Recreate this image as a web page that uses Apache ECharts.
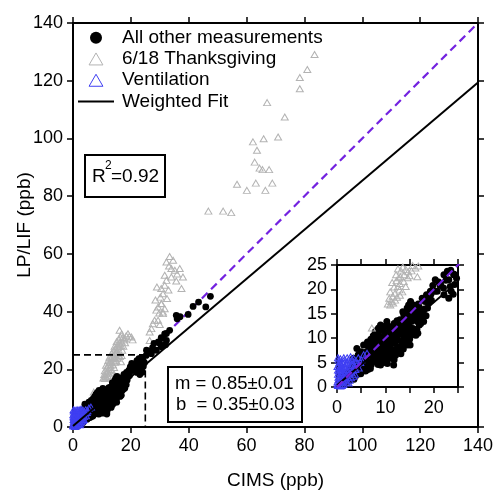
<!DOCTYPE html>
<html>
<head>
<meta charset="utf-8">
<script src="https://cdn.jsdelivr.net/npm/echarts@6/dist/echarts.min.js"></script>
<style>
html,body{margin:0;padding:0;background:#fff;}
#chart{width:495px;height:491px;}
</style>
</head>
<body>
<div id="chart"></div>
<script>
// ---------- data ----------
const xTitle = 'CIMS (ppb)';
const yTitle = 'LP/LIF (ppb)';
const legendNames = ['All other measurements', '6/18 Thanksgiving', 'Ventilation', 'Weighted Fit'];
const r2Text = '0.92';
const slopeText = 'm = 0.85\u00b10.01';
const interceptText = 'b  = 0.35\u00b10.03';

const mainMax = 140, mainStep = 20;
const insetMax = 25, insetStep = 5, insetLabelStep = 10;

// All other measurements [CIMS, LP/LIF]
const otherPts = [
  [47.5,45.3],[45.9,41.6],[43.4,43.3],[41.5,41.8],[39.8,39.0],[37.0,38.2],[36.0,37.5],[35.7,38.7],
  [33.4,33.5],[31.7,32.3],[32.3,30.0],[30.0,28.9],[28.8,26.6],[29.5,29.5],[31.0,30.8],[30.5,27.8],
  [32.0,28.5],[27.1,25.4],[25.3,24.8],[26.0,26.3],[27.5,27.5],[28.0,29.0],[24.2,23.1],[22.5,21.9],
  [23.6,19.6],[21.3,20.8],[20.2,19.6],[24.0,19.0],[23.1,22.0],[25.4,26.6],[32.3,32.4],[30.5,31.0],
  [22.8,23.7],[22.1,23.0],[24.1,23.0],[23.5,23.9],[20.3,22.0],[21.0,21.5],[19.3,19.6],[20.7,19.6],
  [23.1,18.2],[23.4,20.6],[21.4,21.0],[24.3,21.0],[22.1,18.9],[22.0,20.3],[24.7,22.3],[19.8,20.8],
  [18.5,18.9],[17.6,18.2],[18.2,17.5],[19.0,18.3],
  [16.8,17.0],[17.2,15.6],[16.2,16.2],[16.6,13.4],[17.0,12.7],[16.0,14.5],[15.9,10.7],[16.5,11.8],
  [17.5,14.2],[15.5,15.6],[15.2,17.5],
  [14.5,16.2],[15.0,14.0],[14.2,15.0],[14.5,12.5],[15.2,12.1],[14.0,11.3],[14.5,8.6],[15.0,9.8],
  [13.8,14.8],[13.8,10.0],[14.8,13.2],[13.5,9.2],
  [13.0,13.8],[12.4,12.7],[12.8,11.5],[13.1,7.3],[12.4,10.0],[12.0,9.0],[12.5,8.2],[13.2,10.8],
  [12.2,11.8],[11.8,13.0],[12.9,12.3],[11.7,7.6],
  [11.0,8.6],[11.0,5.9],[11.7,4.5],[10.3,13.4],[10.0,10.7],[10.5,9.5],[11.2,10.0],[10.8,11.5],
  [11.5,12.2],[10.2,8.0],[10.7,7.0],[11.4,6.6],[10.0,6.2],[11.0,12.0],
  [9.0,12.7],[8.3,11.7],[8.6,12.1],[9.7,7.3],[9.0,4.5],[9.4,9.0],[8.8,8.2],[9.2,10.3],
  [8.5,9.6],[9.8,11.2],[8.2,7.0],[8.7,5.5],[9.5,6.0],[8.0,10.5],
  [7.6,5.9],[6.2,7.3],[6.9,3.8],[7.0,9.8],[6.5,8.5],[7.3,7.8],[6.8,6.5],[7.8,8.8],
  [6.0,5.2],[7.5,10.5],[6.3,4.6],[7.9,6.8],
  [5.5,8.6],[4.1,7.9],[5.5,3.8],[4.1,3.2],[5.0,6.0],[4.6,5.0],[5.2,4.6],[4.4,6.6],
  [5.8,7.0],[4.8,3.4],[5.7,5.4],
  [3.4,5.9],[2.8,1.8],[3.0,4.0],[3.6,3.0],[2.5,3.3],[3.2,2.3],[2.2,2.0],[3.8,4.8],
  [1.4,1.1],[0.8,0.6],[1.2,2.0],[1.8,1.5],[0.5,0.3],
  [1.6,0.8],[2.0,2.8],[2.4,1.2],[1.0,1.5],
  [3.5,1.6],[3.0,2.9],[4.0,2.4],[3.8,4.0],[4.3,5.6],[3.3,4.9],
  [4.9,2.7],[5.3,5.2],[5.0,7.2],[5.6,6.2],[4.7,4.2],[5.9,3.3],
  [6.1,6.3],[6.6,7.7],[6.4,3.6],[6.7,5.0],[7.1,4.6],[7.2,6.8],[6.3,9.2],[6.9,8.9],[7.4,5.4],
  [7.7,7.6],[8.0,5.2],[8.3,6.2],[8.1,8.4],[7.6,9.6],[8.4,11.0],[7.9,11.3],[8.5,4.6],
  [9.1,5.2],[9.3,7.8],[9.6,8.5],[9.9,9.8],[9.4,11.8],[9.7,12.4],[9.1,6.6],[10.0,5.0],
  [10.4,6.8],[10.6,8.2],[10.9,9.2],[10.3,11.0],[10.6,12.5],[10.9,10.4],[11.2,7.8],[10.4,4.8],
  [11.6,9.4],[11.9,10.6],[11.5,11.2],[12.1,6.5],[12.3,7.6],[11.8,5.6],[12.6,9.6],[12.1,12.6],[12.4,13.6],
  [13.3,8.4],[13.6,11.6],[13.0,12.6],[13.4,13.2],[13.9,12.4],[13.2,6.8],[13.7,7.8],[14.1,9.5],[13.6,15.4],
  [14.3,10.3],[14.7,11.4],[15.3,11.0],[14.9,15.0],[15.4,13.4],[14.2,13.8],[15.1,8.6],[14.8,16.8],
  [15.7,12.0],[16.3,10.6],[16.4,15.2],[15.8,16.8],[16.9,14.6],[16.7,11.0],[17.3,13.0],[17.0,16.3],
  [17.8,15.2],[17.9,13.4],[18.4,14.6],[18.7,16.2],[18.1,16.0],[18.9,17.2],[19.5,17.8],[19.4,19.0]
];

// 6/18 Thanksgiving [CIMS, LP/LIF]
const thanksPts = [
  [10.5,17.0],[10.8,18.2],[11.2,17.5],[11.0,19.5],[11.5,18.6],[11.8,20.5],[11.4,21.4],[12.0,19.2],
  [12.3,21.8],[12.6,20.6],[12.2,23.0],[12.8,22.4],[13.2,23.8],[13.0,21.2],[13.6,24.6],[13.9,23.0],
  [13.4,25.6],[14.2,24.1],[14.0,26.4],[14.5,25.2],[14.8,27.0],[14.4,28.0],[15.0,26.0],[15.3,28.5],
  [15.6,27.4],[15.1,29.6],[15.8,30.4],[16.1,33.5],[16.4,31.2],[16.8,32.2],[17.2,31.0],[17.6,30.2],
  [17.9,30.6],[18.4,31.6],[19.0,32.3],[19.5,31.4],[20.2,31.2],[20.6,30.2],[16.0,29.0],[16.6,28.2],
  [15.4,23.8],[16.2,24.4],[16.8,24.8],[16.6,22.6],[13.5,19.5],[14.6,22.4],[12.0,17.8],[17.0,26.6],
  [15.8,25.6],[13.0,18.8],[7.2,12.1],
  [11.0,16.8],[11.6,17.2],[12.4,18.4],[12.9,19.9],[13.8,21.6],[14.2,20.6],[15.0,22.8],[15.6,24.9],
  [14.7,23.6],[13.1,22.6],[12.6,24.2],[14.9,25.7],[15.9,27.9],[16.9,29.4],[17.4,28.0],[18.0,29.2],
  [30.5,42.7],[29.4,41.6],[31.1,39.8],[28.2,37.0],[29.4,37.0],[27.1,34.1],[26.5,32.9],[27.6,35.8],
  [26.5,30.0],[33.4,59.1],[34.6,57.8],[32.3,57.2],[34.0,54.9],[36.9,54.9],[35.2,54.3],[31.7,52.6],
  [38.0,52.0],[32.3,50.8],[35.7,50.6],[31.7,49.1],[37.5,48.0],[31.1,46.2],[30.6,42.8],[31.7,41.0],
  [31.1,39.3],[29.0,48.5],[30.2,45.0],[28.5,44.0],[29.8,39.5],[30.0,35.5],[28.8,40.5],[32.5,44.5],
  [33.0,47.5],[34.0,52.0],[33.2,55.8],[36.0,53.0],[30.5,48.0],
  [46.8,74.8],[51.9,74.8],[54.7,74.3],[56.7,84.1],[60.1,82.0],[63.2,84.5],[66.5,82.0],[68.9,84.5],
  [62.8,91.8],[64.5,89.7],[65.5,89.2],[67.8,89.2],[63.6,95.9],[62.2,98.8],[65.9,99.9],[70.9,100.5],
  [73.2,107.4],[67.1,112.4],[78.4,117.2],[78.4,121.1],[81.0,123.9],[83.5,129.1]
];

// Ventilation [CIMS, LP/LIF]
const ventPts = [
  [0.2,0.3],[0.4,0.8],[0.3,1.5],[0.6,2.2],[0.5,3.0],[0.8,3.8],[0.4,4.5],[1.0,5.2],[1.4,6.0],[0.3,5.5],
  [0.9,1.0],[1.2,1.8],[1.5,2.6],[1.1,3.4],[1.6,4.2],[2.0,5.0],[2.4,5.6],[1.8,1.2],[2.2,2.0],[2.6,2.8],
  [2.1,3.6],[2.8,4.4],[3.4,5.9],[3.0,3.0],[3.4,2.2],[2.6,1.4],[3.8,3.6],[4.2,4.8],[5.5,6.6],[5.0,5.6],
  [1.3,0.5],[0.7,0.2],[2.0,0.9],[0.2,2.6],[0.6,4.0],[1.7,3.0],[0.1,1.0],[1.0,2.6],[3.2,4.7],[4.5,3.9],
  [0.1,0.5],[0.3,2.0],[0.2,3.5],[0.1,4.2],[0.5,5.0],[0.7,5.8],[0.9,4.6],[0.6,1.4],[0.8,2.9],[1.1,4.0],
  [1.3,4.8],[1.5,5.5],[1.2,1.2],[1.4,3.0],[1.7,3.7],[1.9,4.5],[2.1,6.0],[1.6,1.9],[1.9,2.4],[2.3,3.1],
  [2.5,4.1],[2.7,5.1],[3.0,5.5],[2.4,0.8],[2.9,1.9],[3.3,3.4],[3.6,4.3],[3.9,5.4],[4.4,6.0],[1.0,0.3],
  [0.4,3.3],[0.2,6.0],[2.8,6.2],[3.7,2.6],[4.8,5.0],[6.2,6.9]
];

// Weighted fit (m = 0.85, b = 0.35) and 1:1 line, end points
const fitLine = [[0, 0.35], [140, 119.35]];
const oneToOne = [[0, 0], [140, 140]];
// inset region outline on main plot
const zoomBox = [[0, 25], [25, 25], [25, 0]];

// ---------- style ----------
const FONT = '"Liberation Sans", Arial, Helvetica, sans-serif';
const BLACK = '#000';
const GRAY = '#b3b3b3';
const BLUE = '#3f3ff2';
const PURPLE = '#7322e0';

function axisBase(extra) {
  return Object.assign({
    type: 'value',
    nameMoveOverlap: false,
    axisLine: { show: true, onZero: false, lineStyle: { color: BLACK, width: 2 } },
    axisTick: { show: true, inside: false, length: 6, lineStyle: { color: BLACK, width: 1.5 } },
    splitLine: { show: false },
    axisLabel: { color: BLACK, fontSize: 18, fontFamily: FONT },
    nameTextStyle: { color: BLACK, fontSize: 19, fontFamily: FONT }
  }, extra);
}
function mirror(a) { a.axisLabel = Object.assign({}, a.axisLabel, { show: false }); return a; }

const insetLabel = v => (v % insetLabelStep === 0 ? String(v) : '');

const hollow = c => ({ color: 'rgba(0,0,0,0)', borderColor: c, borderWidth: 1, opacity: 1 });
const solid = { color: BLACK, opacity: 1 };

const option = {
  animation: false,
  backgroundColor: '#fff',
  grid: [
    { left: 73, top: 23, width: 405, height: 404, containLabel: false, outerBoundsMode: 'none' },
    { left: 337, top: 265, width: 121, height: 122, containLabel: false, outerBoundsMode: 'none' }
  ],
  xAxis: [
    axisBase({ gridIndex: 0, min: 0, max: mainMax, interval: mainStep, position: 'bottom',
      name: xTitle, nameLocation: 'middle', nameGap: 44,
      axisLabel: { color: BLACK, fontSize: 18, fontFamily: FONT, margin: 10 } }),
    mirror(axisBase({ gridIndex: 0, min: 0, max: mainMax, interval: mainStep, position: 'top' })),
    axisBase({ gridIndex: 1, min: 0, max: insetMax, interval: insetStep, position: 'bottom',
      axisLabel: { color: BLACK, fontSize: 18, fontFamily: FONT, margin: 12, formatter: insetLabel } }),
    mirror(axisBase({ gridIndex: 1, min: 0, max: insetMax, interval: insetStep, position: 'top' }))
  ],
  yAxis: [
    axisBase({ gridIndex: 0, min: 0, max: mainMax, interval: mainStep, position: 'left',
      name: yTitle, nameLocation: 'middle', nameGap: 39,
      axisLabel: { color: BLACK, fontSize: 18, fontFamily: FONT, margin: 10 } }),
    mirror(axisBase({ gridIndex: 0, min: 0, max: mainMax, interval: mainStep, position: 'right' })),
    axisBase({ gridIndex: 1, min: 0, max: insetMax, interval: insetStep, position: 'left',
      axisLabel: { color: BLACK, fontSize: 18, fontFamily: FONT, margin: 10 } }),
    mirror(axisBase({ gridIndex: 1, min: 0, max: insetMax, interval: insetStep, position: 'right' }))
  ],
  legend: {
    left: 78, top: 27, orient: 'vertical', selectedMode: false, padding: 0,
    itemWidth: 36, itemHeight: 12, itemGap: 0, symbolKeepAspect: true,
    textStyle: { color: BLACK, fontSize: 19, fontFamily: FONT, lineHeight: 21.3, padding: [0, 0, 0, 3] },
    data: [
      { name: legendNames[0], icon: 'circle', itemStyle: solid },
      { name: legendNames[1], icon: 'path://M6,0 L12,10.4 L0,10.4 Z', itemStyle: hollow(GRAY) },
      { name: legendNames[2], icon: 'path://M6,0 L12,10.4 L0,10.4 Z', itemStyle: hollow(BLUE) },
      { name: legendNames[3], icon: 'path://M0,0 L36,0 L36,2 L0,2 Z', itemStyle: { color: BLACK, opacity: 1, borderWidth: 0 } }
    ]
  },
  series: [
    // ----- main plot -----
    { name: legendNames[1], type: 'scatter', xAxisIndex: 0, yAxisIndex: 0, data: thanksPts,
      symbol: 'triangle', symbolSize: [7, 6], z: 2, itemStyle: hollow(GRAY) },
    { name: '1:1', type: 'line', xAxisIndex: 0, yAxisIndex: 0, data: oneToOne, symbol: 'none', z: 3,
      lineStyle: { color: PURPLE, width: 2.2, type: [8, 5] } },
    { name: legendNames[0], type: 'scatter', xAxisIndex: 0, yAxisIndex: 0, data: otherPts,
      symbol: 'circle', symbolSize: 6.8, z: 4, itemStyle: solid },
    { name: legendNames[2], type: 'scatter', xAxisIndex: 0, yAxisIndex: 0, data: ventPts,
      symbol: 'triangle', symbolSize: [7, 6], z: 5, itemStyle: hollow(BLUE) },
    { name: legendNames[3], type: 'line', xAxisIndex: 0, yAxisIndex: 0, data: fitLine, symbol: 'none', z: 6,
      lineStyle: { color: BLACK, width: 2 } },
    { name: 'zoom region', type: 'line', xAxisIndex: 0, yAxisIndex: 0, data: zoomBox, symbol: 'none', z: 6,
      lineStyle: { color: BLACK, width: 1.6, type: [7, 4] } },
    // ----- inset -----
    { name: legendNames[0], type: 'scatter', xAxisIndex: 2, yAxisIndex: 2, data: otherPts,
      symbol: 'circle', symbolSize: 7, z: 4, itemStyle: solid },
    { name: legendNames[2], type: 'scatter', xAxisIndex: 2, yAxisIndex: 2, data: ventPts,
      symbol: 'triangle', symbolSize: [7, 6], z: 5, itemStyle: hollow(BLUE) },
    { name: legendNames[1], type: 'scatter', xAxisIndex: 2, yAxisIndex: 2, data: thanksPts,
      symbol: 'triangle', symbolSize: [7, 6], z: 5, itemStyle: hollow(GRAY) },
    { name: legendNames[3], type: 'line', xAxisIndex: 2, yAxisIndex: 2, data: fitLine, symbol: 'none', z: 6,
      lineStyle: { color: BLACK, width: 2 } },
    { name: '1:1', type: 'line', xAxisIndex: 2, yAxisIndex: 2, data: oneToOne, symbol: 'none', z: 7,
      lineStyle: { color: PURPLE, width: 2.2, type: [8, 5] } }
  ],
  graphic: [
    { type: 'rect', shape: { x: 85, y: 155, width: 80, height: 42 }, z: 100,
      style: { fill: '#fff', stroke: BLACK, lineWidth: 2 } },
    { type: 'text', x: 92, y: 177, z: 101,
      style: { text: 'R', fontSize: 19, fontFamily: FONT, fill: BLACK, verticalAlign: 'middle', align: 'left' } },
    { type: 'text', x: 105, y: 166, z: 101,
      style: { text: '2', fontSize: 12, fontFamily: FONT, fill: BLACK, verticalAlign: 'middle', align: 'left' } },
    { type: 'text', x: 111, y: 177, z: 101,
      style: { text: '=' + r2Text, fontSize: 19, fontFamily: FONT, fill: BLACK, verticalAlign: 'middle', align: 'left' } },
    { type: 'rect', shape: { x: 168, y: 367, width: 134, height: 55 }, z: 100,
      style: { fill: '#fff', stroke: BLACK, lineWidth: 2 } },
    { type: 'text', x: 175, y: 384, z: 101,
      style: { text: slopeText, fontSize: 18.5, fontFamily: FONT, fill: BLACK, verticalAlign: 'middle', align: 'left' } },
    { type: 'text', x: 176, y: 405, z: 101,
      style: { text: interceptText, fontSize: 18.5, fontFamily: FONT, fill: BLACK, verticalAlign: 'middle', align: 'left' } }
  ]
};

const chart = echarts.init(document.getElementById('chart'), null, { renderer: 'canvas' });
chart.setOption(option);
</script>
</body>
</html>
